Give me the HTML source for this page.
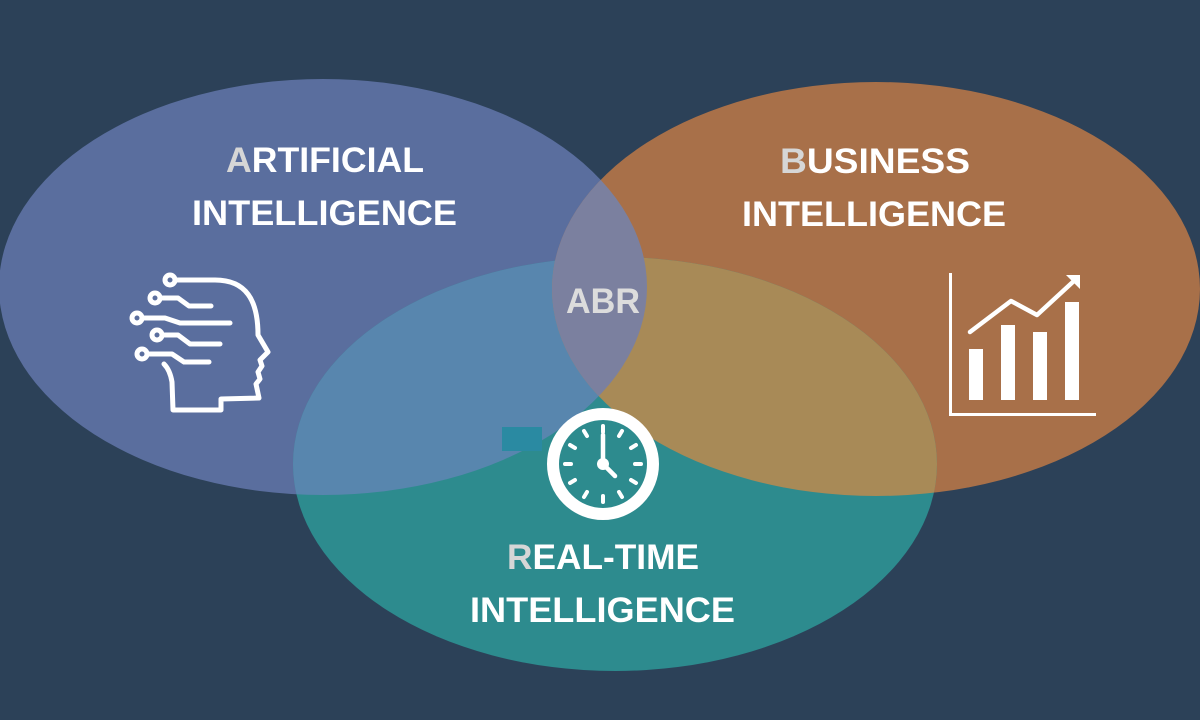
<!DOCTYPE html>
<html><head><meta charset="utf-8"><style>
html,body{margin:0;padding:0;background:#2c4158;}
svg{display:block}
text{font-family:"Liberation Sans",Arial,sans-serif;font-weight:bold;}
</style></head><body>
<svg width="1200" height="720" viewBox="0 0 1200 720" xmlns="http://www.w3.org/2000/svg">
<defs>
<clipPath id="cb"><ellipse cx="323" cy="287" rx="324" ry="208"/></clipPath>
<clipPath id="co"><ellipse cx="876" cy="289" rx="324" ry="207"/></clipPath>
</defs>
<rect width="1200" height="720" fill="#2c4158"/>
<ellipse cx="323" cy="287" rx="324" ry="208" fill="#5a6e9e"/>
<ellipse cx="876" cy="289" rx="324" ry="207" fill="#a87049"/>
<ellipse cx="615" cy="464" rx="322" ry="207" fill="#2d8b8e"/>
<g clip-path="url(#cb)"><ellipse cx="615" cy="464" rx="322" ry="207" fill="#5886ae"/></g>
<g clip-path="url(#co)"><ellipse cx="615" cy="464" rx="322" ry="207" fill="#a88a57"/></g>
<g clip-path="url(#cb)"><ellipse cx="876" cy="289" rx="324" ry="207" fill="#7b809f"/></g>
<rect x="502" y="427" width="40" height="24" fill="#2a8aa2"/>

<g fill="none" stroke="#fff" stroke-width="5" stroke-linecap="round" stroke-linejoin="round">
<circle cx="170" cy="280" r="5"/><circle cx="155" cy="298" r="5"/><circle cx="137" cy="318" r="5"/><circle cx="157" cy="335" r="5"/><circle cx="142" cy="354" r="5"/>
<path d="M175 280 H215 C246 280 258 300 258 335 L268 352 L260 360 L262 366 L258 372 L260 379 L256 384 L259 398 L221 399 L221 410 L173 410 L172 382 Q170 370 164 364"/>
<path d="M160 298 H178 L189 306 H211"/>
<path d="M142 318 H165 L180 323 H230"/>
<path d="M162 335 H178 L190 344 H220"/>
<path d="M147 354 H172 L184 362 H209"/>
</g>

<g fill="#fff">
<rect x="949" y="273" width="3" height="143"/><rect x="949" y="413" width="147" height="3"/>
<rect x="969" y="349" width="14" height="51"/><rect x="1001" y="325" width="14" height="75"/>
<rect x="1033" y="332" width="14" height="68"/><rect x="1065" y="302" width="14" height="98"/>
<path d="M1080 275 L1080 289 L1066 275 Z"/>
</g>
<polyline points="970,332 1011,301 1037,315 1075,280" fill="none" stroke="#fff" stroke-width="4.5" stroke-linecap="round" stroke-linejoin="round"/>

<g>
<circle cx="603" cy="464" r="50" fill="none" stroke="#fff" stroke-width="12"/>
<g stroke="#fff" stroke-width="4" stroke-linecap="round">
<line x1="603" y1="426" x2="603" y2="432"/><line x1="603" y1="496" x2="603" y2="502"/>
<line x1="565" y1="464" x2="571" y2="464"/><line x1="635" y1="464" x2="641" y2="464"/>
<line x1="622" y1="431" x2="619" y2="436"/><line x1="636" y1="445" x2="631" y2="448"/>
<line x1="636" y1="483" x2="631" y2="480"/><line x1="622" y1="497" x2="619" y2="492"/>
<line x1="584" y1="497" x2="587" y2="492"/><line x1="570" y1="483" x2="575" y2="480"/>
<line x1="570" y1="445" x2="575" y2="448"/><line x1="584" y1="431" x2="587" y2="436"/>
<line x1="603" y1="435" x2="603" y2="464" stroke-width="4.5"/><line x1="603" y1="464" x2="615" y2="476" stroke-width="4.5"/>
</g>
<circle cx="603" cy="464" r="6" fill="#fff"/>
</g>

<g font-size="35" fill="#fff" lengthAdjust="spacingAndGlyphs">
<text x="226" y="172" textLength="198" lengthAdjust="spacingAndGlyphs"><tspan fill="#d6d6d6">A</tspan>RTIFICIAL</text>
<text x="192" y="225" textLength="265" lengthAdjust="spacingAndGlyphs">INTELLIGENCE</text>
<text x="780" y="173" textLength="190" lengthAdjust="spacingAndGlyphs"><tspan fill="#d6d6d6">B</tspan>USINESS</text>
<text x="742" y="226" textLength="264" lengthAdjust="spacingAndGlyphs">INTELLIGENCE</text>
<text x="507" y="569" textLength="192" lengthAdjust="spacingAndGlyphs"><tspan fill="#d6d6d6">R</tspan>EAL-TIME</text>
<text x="470" y="622" textLength="265" lengthAdjust="spacingAndGlyphs">INTELLIGENCE</text>
<text x="566" y="313" textLength="74" lengthAdjust="spacingAndGlyphs" fill="#dcdcdc">ABR</text>
</g>
</svg>
</body></html>
